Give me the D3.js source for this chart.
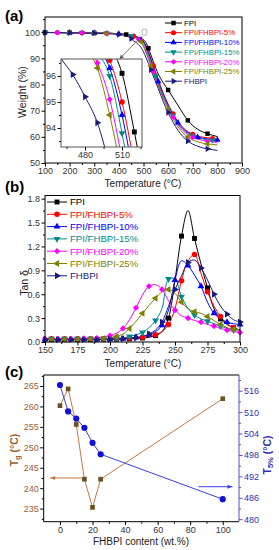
<!DOCTYPE html>
<html>
<head>
<meta charset="utf-8">
<script src="https://cdn.jsdelivr.net/npm/d3@7"></script>
<style>
  body { margin: 0; background: #fff; }
</style>
</head>
<body>
<div id="chart"></div>
<script>
// ---------- data ----------
const seriesNames = ["FPI", "FPI/FHBPI-5%", "FPI/FHBPI-10%", "FPI/FHBPI-15%", "FPI/FHBPI-20%", "FPI/FHBPI-25%", "FHBPI"];
const seriesColors = ["#000000", "#ff0000", "#0000ff", "#008b8b", "#ff00ff", "#808000", "#1a1a80"];

// (a) TGA weight (%) vs temperature
const tgaTemps = [100, 150, 200, 250, 300, 350, 400, 430, 450, 460, 470, 480, 490, 500, 510, 520, 530, 540, 550, 560, 580, 600, 620, 640, 660, 680, 700, 720, 740, 760, 780, 800];
const tgaFPI   = [99.9, 99.85, 99.8, 99.75, 99.7, 99.6, 99.4, 99.1, 98.8, 98.6, 98.3, 98.0, 97.6, 97.1, 96.1, 93.85, 91.3, 88.7, 86.2, 84.0, 80.7, 77.9, 75.0, 72.0, 69.0, 66.3, 64.3, 62.9, 61.9, 61.2, 60.6, 60.1];
const tga5     = [99.9, 99.85, 99.8, 99.75, 99.7, 99.6, 99.4, 99.1, 98.75, 98.5, 98.2, 97.8, 97.3, 96.6, 95.0, 92.6, 90.0, 87.2, 84.5, 81.8, 76.8, 72.5, 68.8, 65.8, 63.6, 62.0, 61.0, 60.3, 59.9, 59.6, 59.4, 59.2];
const tga10    = [99.9, 99.85, 99.8, 99.75, 99.7, 99.6, 99.4, 99.05, 98.7, 98.45, 98.1, 97.7, 97.1, 96.3, 94.5, 92.0, 89.4, 86.6, 83.9, 81.2, 76.3, 72.1, 68.4, 65.4, 63.2, 61.6, 60.6, 59.9, 59.5, 59.2, 59.0, 58.8];
const tga15    = [99.9, 99.85, 99.8, 99.75, 99.7, 99.6, 99.35, 99.0, 98.6, 98.35, 98.0, 97.5, 96.9, 96.0, 93.8, 91.2, 88.6, 85.9, 83.2, 80.6, 75.8, 71.7, 68.1, 65.1, 62.9, 61.3, 60.3, 59.6, 59.2, 58.9, 58.7, 58.5];
const tga20    = [99.9, 99.85, 99.8, 99.75, 99.7, 99.55, 99.3, 98.9, 98.5, 98.2, 97.8, 97.3, 96.5, 95.1, 92.8, 90.2, 87.6, 84.9, 82.3, 79.8, 75.2, 71.2, 67.6, 64.6, 62.4, 60.8, 59.8, 59.1, 58.6, 58.3, 58.1, 57.9];
const tga25    = [99.9, 99.85, 99.8, 99.75, 99.7, 99.55, 99.3, 98.85, 98.4, 98.1, 97.7, 97.1, 96.3, 94.5, 92.2, 89.7, 87.1, 84.5, 81.9, 79.4, 74.8, 70.6, 66.9, 63.8, 61.5, 59.9, 58.8, 58.1, 57.6, 57.3, 57.1, 56.9];
const tgaFHBPI = [99.85, 99.8, 99.75, 99.7, 99.6, 99.4, 99.1, 98.6, 97.5, 96.7, 96.05, 95.2, 94.2, 92.5, 90.3, 88.0, 85.6, 83.2, 80.8, 78.4, 73.5, 69.3, 65.6, 62.5, 60.1, 58.4, 57.2, 56.4, 55.8, 55.4, 55.1, 54.8];
const tgaSeries = [tgaFPI, tga5, tga10, tga15, tga20, tga25, tgaFHBPI];

// temperatures that carry a symbol, main plot and inset
const tgaMarks = [
  [100, 200, 300, 430, 520, 600, 680, 760],
  [150, 250, 350, 460, 540, 620, 700, 780],
  [200, 300, 400, 490, 560, 640, 720, 800],
  [100, 250, 350, 450, 550, 620, 700, 780],
  [150, 250, 350, 480, 540, 620, 700, 760],
  [200, 300, 350, 490, 530, 600, 680, 760],
  [100, 200, 300, 400, 450, 530, 600, 680, 760]
];
const insetMarks = [[510, 520], [500, 510], [500, 510], [500, 510], [490, 500], [490, 500], [470, 480, 490]];

// (b) tan delta vs temperature
const dmaTemps = [150, 155, 160, 165, 170, 175, 180, 185, 190, 195, 200, 205, 210, 215, 220, 225, 230, 235, 240, 245, 250, 255, 260, 265, 270, 275, 280, 285, 290, 295, 300];
const tanFPI   = [0.03, 0.03, 0.03, 0.03, 0.03, 0.03, 0.03, 0.03, 0.03, 0.035, 0.035, 0.035, 0.04, 0.04, 0.045, 0.05, 0.06, 0.08, 0.13, 0.30, 0.78, 1.33, 1.65, 1.30, 0.98, 0.68, 0.42, 0.29, 0.22, 0.18, 0.15];
const tan5     = [0.04, 0.04, 0.04, 0.04, 0.04, 0.04, 0.04, 0.04, 0.04, 0.04, 0.04, 0.045, 0.05, 0.05, 0.055, 0.06, 0.07, 0.09, 0.13, 0.22, 0.42, 0.77, 1.02, 1.10, 0.86, 0.63, 0.45, 0.32, 0.23, 0.18, 0.15];
const tan10    = [0.03, 0.03, 0.03, 0.03, 0.03, 0.03, 0.03, 0.03, 0.03, 0.03, 0.03, 0.035, 0.04, 0.05, 0.06, 0.07, 0.09, 0.13, 0.21, 0.40, 0.78, 1.02, 0.96, 0.84, 0.70, 0.50, 0.36, 0.29, 0.25, 0.23, 0.22];
const tan15    = [0.04, 0.04, 0.04, 0.04, 0.04, 0.04, 0.04, 0.04, 0.04, 0.04, 0.04, 0.045, 0.05, 0.07, 0.09, 0.12, 0.18, 0.27, 0.42, 0.79, 0.79, 0.57, 0.42, 0.34, 0.29, 0.26, 0.23, 0.20, 0.17, 0.15, 0.13];
const tan20    = [0.04, 0.04, 0.04, 0.04, 0.04, 0.04, 0.045, 0.05, 0.05, 0.06, 0.08, 0.11, 0.17, 0.28, 0.43, 0.59, 0.70, 0.72, 0.66, 0.52, 0.40, 0.33, 0.30, 0.27, 0.25, 0.22, 0.20, 0.17, 0.15, 0.13, 0.12];
const tan25    = [0.03, 0.03, 0.03, 0.03, 0.03, 0.03, 0.035, 0.035, 0.04, 0.045, 0.05, 0.07, 0.10, 0.17, 0.26, 0.36, 0.46, 0.55, 0.63, 0.66, 0.61, 0.50, 0.42, 0.38, 0.36, 0.32, 0.27, 0.22, 0.18, 0.16, 0.15];
const tanFHBPI = [0.03, 0.03, 0.03, 0.03, 0.03, 0.03, 0.03, 0.03, 0.03, 0.035, 0.035, 0.04, 0.04, 0.045, 0.05, 0.07, 0.10, 0.15, 0.25, 0.45, 0.66, 0.83, 1.00, 1.03, 0.93, 0.78, 0.60, 0.45, 0.35, 0.28, 0.25];
const tanSeries = [tanFPI, tan5, tan10, tan15, tan20, tan25, tanFHBPI];
const tanMarkParity = [1, 1, 0, 1, 0, 1, 0];

// (c) Tg and T5% vs FHBPI content
const contentPct = [0, 5, 10, 15, 20, 25, 100];
const tgValues = [260.2, 264.3, 255.6, 242.2, 235.3, 242.2, 261.9];
const t5Values = [517.6, 510.2, 508.2, 505.6, 501.4, 498.2, 485.6];

// ---------- drawing ----------
const font = '"Liberation Sans", Arial, Helvetica, sans-serif';
const svg = d3.select("#chart").append("svg")
  .attr("width", 279).attr("height", 550)
  .style("font-family", font);

const symbolTypes = [d3.symbolSquare, d3.symbolCircle, d3.symbolTriangle, d3.symbolTriangle, d3.symbolSquare, d3.symbolTriangle, d3.symbolTriangle];
const symbolTurn = [0, 0, 0, 180, 45, -90, 90];
const symbolScale = [1, 1, 0.85, 0.85, 0.8, 0.85, 0.85];

function marker(g, k, x, y, size, color) {
  g.append("path")
    .attr("d", d3.symbol().type(symbolTypes[k]).size(size * symbolScale[k])())
    .attr("transform", `translate(${x},${y}) rotate(${symbolTurn[k]})`)
    .attr("fill", color || seriesColors[k]);
}

function axis(g, orient, scale, major, minor, pos, fmt, labelColor, lineColor) {
  const make = orient === "bottom" ? d3.axisBottom : orient === "left" ? d3.axisLeft : d3.axisRight;
  const tr = orient === "bottom" ? `translate(0,${pos})` : `translate(${pos},0)`;
  const gm = g.append("g").attr("transform", tr)
    .attr("color", lineColor || "#000")
    .call(make(scale).tickValues(minor).tickSize(2).tickFormat(""));
  gm.select(".domain").remove();
  const ga = g.append("g").attr("transform", tr)
    .attr("color", lineColor || "#000")
    .call(make(scale).tickValues(major).tickSize(3.5).tickPadding(1.5).tickFormat(fmt || d3.format("")));
  ga.select(".domain").remove();
  ga.selectAll("text")
    .attr("font-family", font)
    .attr("font-size", 9)
    .attr("fill", labelColor || "#333");
  return ga;
}

function frame(g, x, y, stroke) {
  g.append("rect")
    .attr("x", x.range()[0]).attr("y", y.range()[1])
    .attr("width", x.range()[1] - x.range()[0])
    .attr("height", y.range()[0] - y.range()[1])
    .attr("fill", "none").attr("stroke", stroke || "#000").attr("stroke-width", 1);
}

function panelLetter(txt, y) {
  svg.append("text").attr("x", 5).attr("y", y)
    .attr("font-size", 15).attr("font-weight", "bold").text(txt);
}

// ----- (a) -----
const xA = d3.scaleLinear().domain([100, 900]).range([45, 242]);
const yA = d3.scaleLinear().domain([50, 105.8]).range([163, 17]);
const gA = svg.append("g");

const lineA = d3.line()
  .x((d, i) => xA(tgaTemps[i]))
  .y(d => yA(d))
  .curve(d3.curveMonotoneX);

tgaSeries.forEach((s, k) => {
  gA.append("path").attr("d", lineA(s))
    .attr("fill", "none").attr("stroke", seriesColors[k]).attr("stroke-width", 1);
});
tgaSeries.forEach((s, k) => {
  tgaMarks[k].forEach(t => {
    const i = tgaTemps.indexOf(t);
    marker(gA, k, xA(t), yA(s[i]), 20);
  });
});

axis(gA, "bottom", xA, d3.range(100, 901, 100), d3.range(150, 900, 100), 163);
axis(gA, "left", yA, [50, 60, 70, 80, 90, 100], [55, 65, 75, 85, 95, 105], 45);
frame(gA, xA, yA);

// zoomed region marker and arrow
const zoomBox = { t0: 494, t1: 514, w0: 98.8, w1: 101.2 };
gA.append("rect")
  .attr("x", xA(zoomBox.t0)).attr("y", yA(zoomBox.w1))
  .attr("width", xA(zoomBox.t1) - xA(zoomBox.t0))
  .attr("height", yA(zoomBox.w0) - yA(zoomBox.w1))
  .attr("rx", 2)
  .attr("fill", "none").attr("stroke", "#999").attr("stroke-width", 0.8);

// inset
const xI = d3.scaleLinear().domain([460.5, 526.2]).range([61, 142]);
const yI = d3.scaleLinear().domain([93.27, 96.65]).range([147, 59]);
const gI = svg.append("g");
gI.append("rect")
  .attr("x", 61).attr("y", 59).attr("width", 81).attr("height", 88)
  .attr("fill", "#fff");
svg.append("defs").append("clipPath").attr("id", "insetClip")
  .append("rect").attr("x", 61).attr("y", 59).attr("width", 81).attr("height", 88);

const lineI = d3.line()
  .x((d, i) => xI(tgaTemps[i]))
  .y(d => yI(d))
  .curve(d3.curveMonotoneX);
const gIc = gI.append("g").attr("clip-path", "url(#insetClip)");
tgaSeries.forEach((s, k) => {
  gIc.append("path").attr("d", lineI(s))
    .attr("fill", "none").attr("stroke", seriesColors[k]).attr("stroke-width", 1);
});
tgaSeries.forEach((s, k) => {
  insetMarks[k].forEach(t => {
    const i = tgaTemps.indexOf(t);
    marker(gIc, k, xI(t), yI(s[i]), 24);
  });
});
axis(gI, "bottom", xI, [480, 510], [465, 495, 525], 147);
axis(gI, "left", yI, [94, 95, 96], [93.5, 94.5, 95.5, 96.5], 61);
frame(gI, xI, yI, "#555");

// arrow from zoom region to inset
const arrowFrom = [xA(491), yA(98.4)];
const arrowTo = [xI(508), yI(96.65)];
gA.append("line")
  .attr("x1", arrowFrom[0]).attr("y1", arrowFrom[1])
  .attr("x2", arrowTo[0]).attr("y2", arrowTo[1])
  .attr("stroke", "#555").attr("stroke-width", 0.8);
{
  const ang = Math.atan2(arrowTo[1] - arrowFrom[1], arrowTo[0] - arrowFrom[0]);
  const L = 4, Wd = 2;
  const bx = arrowTo[0] - L * Math.cos(ang), by = arrowTo[1] - L * Math.sin(ang);
  gA.append("path")
    .attr("d", `M${arrowTo[0]},${arrowTo[1]}L${bx - Wd * Math.sin(ang)},${by + Wd * Math.cos(ang)}L${bx + Wd * Math.sin(ang)},${by - Wd * Math.cos(ang)}Z`)
    .attr("fill", "#555");
}

// legend (a)
const legA = svg.append("g");
seriesNames.forEach((name, k) => {
  const y = 23 + k * 9.7;
  legA.append("line").attr("x1", 165).attr("x2", 182).attr("y1", y).attr("y2", y)
    .attr("stroke", seriesColors[k]).attr("stroke-width", 1);
  marker(legA, k, 173.5, y, 20);
  legA.append("text").attr("x", 184).attr("y", y).attr("dy", "0.35em")
    .attr("font-size", 7.8).attr("fill", seriesColors[k]).text(name);
});

svg.append("text")
  .attr("transform", "translate(22,92) rotate(-90)")
  .attr("text-anchor", "middle").attr("dy", "0.35em")
  .attr("font-size", 10.5).attr("fill", "#222").text("Weight (%)");
svg.append("text")
  .attr("x", 143).attr("y", 187).attr("text-anchor", "middle")
  .attr("font-size", 10).attr("fill", "#222").text("Temperature (\u00B0C)");
panelLetter("(a)", 21);

// ----- (b) -----
const xB = d3.scaleLinear().domain([150, 300]).range([45, 240]);
const yB = d3.scaleLinear().domain([0, 1.84]).range([342, 195.5]);
const gB = svg.append("g");
const lineB = d3.line()
  .x((d, i) => xB(dmaTemps[i]))
  .y(d => yB(d))
  .curve(d3.curveCatmullRom.alpha(0.5));

tanSeries.forEach((s, k) => {
  gB.append("path").attr("d", lineB(s))
    .attr("fill", "none").attr("stroke", seriesColors[k]).attr("stroke-width", 1);
});
tanSeries.forEach((s, k) => {
  s.forEach((v, i) => {
    if (i % 2 === tanMarkParity[k]) marker(gB, k, xB(dmaTemps[i]), yB(v), 24);
  });
});

axis(gB, "bottom", xB, d3.range(150, 301, 25), d3.range(162.5, 300, 25), 342);
axis(gB, "left", yB, [0, 0.3, 0.6, 0.9, 1.2, 1.5, 1.8], [0.15, 0.45, 0.75, 1.05, 1.35, 1.65], 45, d3.format(".1f"));
frame(gB, xB, yB);

const legB = svg.append("g");
seriesNames.forEach((name, k) => {
  const y = 202 + k * 12.3;
  legB.append("line").attr("x1", 47).attr("x2", 67).attr("y1", y).attr("y2", y)
    .attr("stroke", seriesColors[k]).attr("stroke-width", 1);
  marker(legB, k, 57, y, 24);
  legB.append("text").attr("x", 70).attr("y", y).attr("dy", "0.35em")
    .attr("font-size", 9.6).attr("fill", seriesColors[k]).text(name);
});

svg.append("text")
  .attr("transform", "translate(24,283) rotate(-90)")
  .attr("text-anchor", "middle").attr("dy", "0.35em")
  .attr("font-size", 10.5).attr("fill", "#222").text("Tan \u03B4");
svg.append("text")
  .attr("x", 143).attr("y", 367).attr("text-anchor", "middle")
  .attr("font-size", 10).attr("fill", "#222").text("Temperature (\u00B0C)");
panelLetter("(b)", 192);

// ----- (c) -----
const tgLine = "#c07a48", tgMark = "#6b5020", tgText = "#a0602d";
const t5Line = "#3b3fe0", t5Mark = "#1010d8", t5Text = "#3030b0";

const xC = d3.scaleLinear().domain([-10, 110]).range([43.7, 239]);
const yTg = d3.scaleLinear().domain([231.8, 267.7]).range([521.7, 375]);
const yT5 = d3.scaleLinear().domain([479.3, 520.4]).range([521.7, 375]);
const gC = svg.append("g");

gC.append("path")
  .attr("d", d3.line().x((d, i) => xC(contentPct[i])).y(d => yTg(d))(tgValues))
  .attr("fill", "none").attr("stroke", tgLine).attr("stroke-width", 1);
gC.append("path")
  .attr("d", d3.line().x((d, i) => xC(contentPct[i])).y(d => yT5(d))(t5Values))
  .attr("fill", "none").attr("stroke", t5Line).attr("stroke-width", 1);
tgValues.forEach((v, i) => marker(gC, 0, xC(contentPct[i]), yTg(v), 22, tgMark));
t5Values.forEach((v, i) => marker(gC, 1, xC(contentPct[i]), yT5(v), 30, t5Mark));

axis(gC, "bottom", xC, [0, 20, 40, 60, 80, 100], [10, 30, 50, 70, 90], 521.7);
axis(gC, "left", yTg, d3.range(235, 266, 5), d3.range(232.5, 268, 5), 43.7, d3.format(""), tgText);
axis(gC, "right", yT5, d3.range(480, 517, 6), d3.range(483, 520, 6), 239, d3.format(""), t5Text, "#5050c8");

// frame: black with blue right side
gC.append("path")
  .attr("d", `M239,375H43.7V521.7H239`)
  .attr("fill", "none").attr("stroke", "#000").attr("stroke-width", 1);
gC.append("line").attr("x1", 239).attr("x2", 239).attr("y1", 375).attr("y2", 521.7)
  .attr("stroke", "#5050c8").attr("stroke-width", 1);

// arrows pointing at each axis
function hArrow(x1, x2, y, color) {
  gC.append("line").attr("x1", x1).attr("x2", x2).attr("y1", y).attr("y2", y)
    .attr("stroke", color).attr("stroke-width", 1);
  const dir = x2 > x1 ? 1 : -1;
  gC.append("path")
    .attr("d", `M${x2},${y}L${x2 - dir * 5},${y - 2}L${x2 - dir * 5},${y + 2}Z`)
    .attr("fill", color);
}
const tgArrow = { from: 14, to: -6, value: 242.5 };
const t5Arrow = { from: 85, to: 106, value: 489.1 };
hArrow(xC(tgArrow.from), xC(tgArrow.to), yTg(tgArrow.value), tgLine);
hArrow(xC(t5Arrow.from), xC(t5Arrow.to), yT5(t5Arrow.value), t5Line);

// axis titles
const tgTitle = svg.append("text")
  .attr("transform", "translate(14,450) rotate(-90)")
  .attr("text-anchor", "middle").attr("dy", "0.35em")
  .attr("font-size", 10.5).attr("font-weight", "bold").attr("fill", tgText);
tgTitle.append("tspan").text("T");
tgTitle.append("tspan").attr("font-size", 7.5).attr("dy", "2").text("g");
tgTitle.append("tspan").attr("dy", "-2").text(" (\u00B0C)");

const t5Title = svg.append("text")
  .attr("transform", "translate(267,455) rotate(-90)")
  .attr("text-anchor", "middle").attr("dy", "0.35em")
  .attr("font-size", 10.5).attr("font-weight", "bold").attr("fill", t5Text);
t5Title.append("tspan").text("T");
t5Title.append("tspan").attr("font-size", 7.5).attr("dy", "2").text("5%");
t5Title.append("tspan").attr("dy", "-2").text(" (\u00B0C)");

svg.append("text")
  .attr("x", 141).attr("y", 545).attr("text-anchor", "middle")
  .attr("font-size", 10).attr("fill", "#222").text("FHBPI content (wt.%)");
panelLetter("(c)", 377);
</script>
</body>
</html>
